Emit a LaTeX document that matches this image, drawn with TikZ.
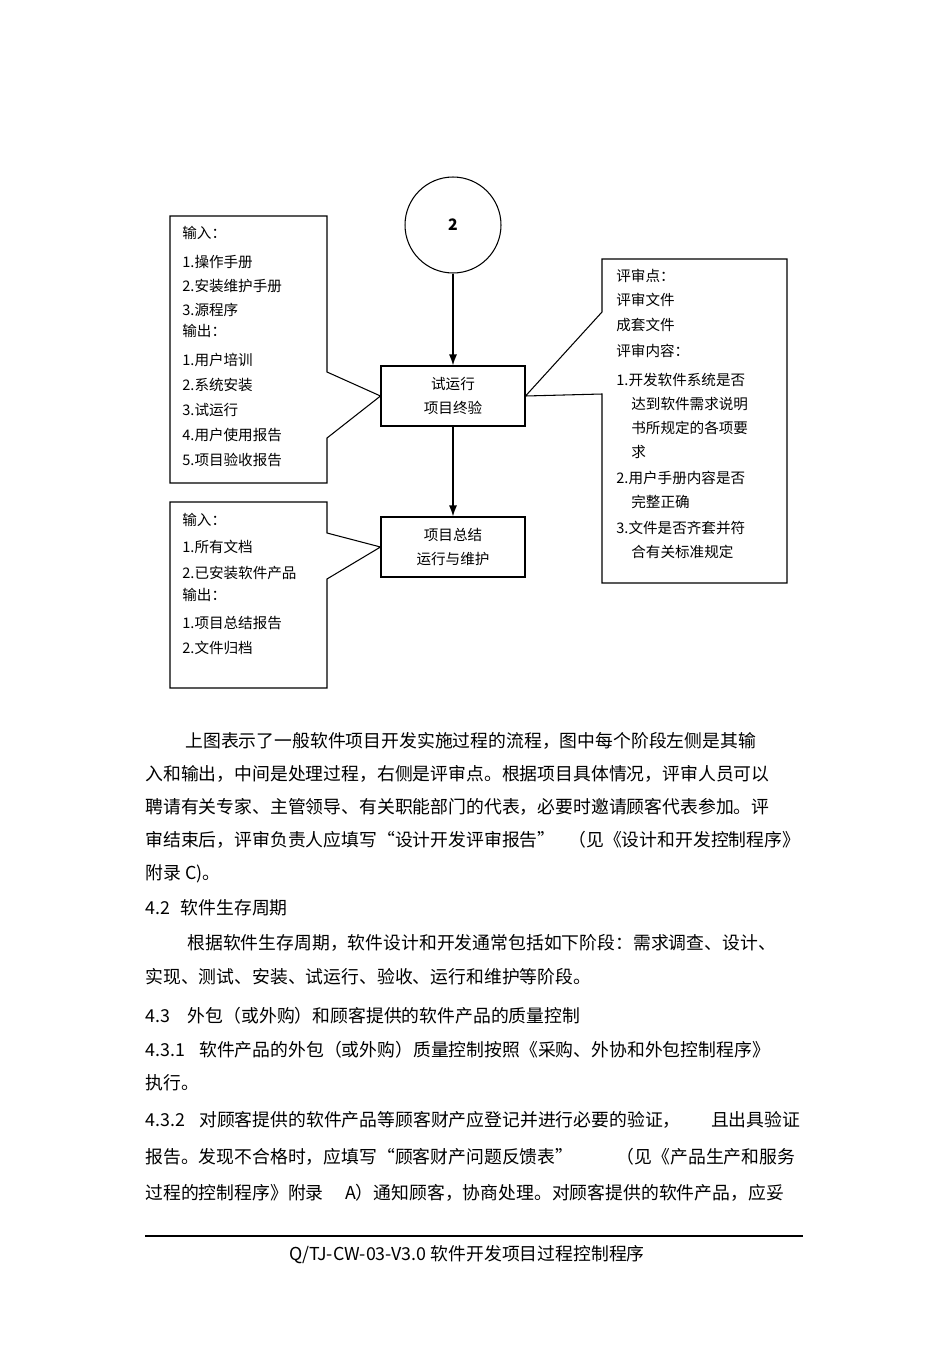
\documentclass[tikz,border=0pt]{standalone}
\usepackage{fontspec}
\setmainfont{Noto Sans CJK SC}
\usetikzlibrary{positioning, arrows.meta}

\begin{document}
\begin{tikzpicture}[
    x=0.02cm, y=-0.02cm,
    proc/.style={rectangle, draw, line width=0.6pt, minimum width=2.88cm, minimum height=1.2cm, align=center, font=\fontsize{8.3}{14}\selectfont},
    conn/.style={circle, draw, line width=0.6pt, minimum size=1.92cm, font=\bfseries\fontsize{9}{10}\selectfont},
    callout/.style={draw, line width=0.6pt},
    note/.style={anchor=west, inner sep=0pt, font=\fontsize{8.3}{10}\selectfont},
    body/.style={anchor=west, inner sep=0pt, font=\fontsize{10.15}{12}\selectfont},
    arr/.style={-{Latex[length=2.2mm, width=1.6mm]}, line width=0.8pt},
]
\useasboundingbox (0,0) rectangle (950,1345);

% Flow: connector circle and the two phases
\node[conn] (c2) at (453,225) {2};
\node[proc] (try) at (453,396) {试运行\\项目终验};
\node[proc] (sum) at (453,547) {项目总结\\运行与维护};

\draw[arr] (c2) -- (try);
\draw[arr] (try) -- (sum);

% Left callout - trial run inputs and outputs
\draw[callout] (327,372) -- (327,216) -- (170,216) -- (170,483) -- (327,483) -- (327,438) -- (try.west) -- cycle;
\foreach \y/\t [count=\i] in {233/输入：, 262/1.操作手册, 286/2.安装维护手册, 310/3.源程序, 331/输出：,
    360/1.用户培训, 385/2.系统安装, 410/3.试运行, 435/4.用户使用报告, 460/5.项目验收报告}
    \node[note] (ia\i) at (182,\y) {\t};

% Left callout - summary inputs and outputs
\draw[callout] (327,533) -- (327,502) -- (170,502) -- (170,688) -- (327,688) -- (327,579) -- (sum.west) -- cycle;
\foreach \y/\t [count=\i] in {520/输入：, 547/1.所有文档, 573/2.已安装软件产品, 595/输出：,
    623/1.项目总结报告, 648/2.文件归档}
    \node[note] (ib\i) at (182,\y) {\t};

% Right callout - review points
\draw[callout] (602,312) -- (602,259) -- (787,259) -- (787,583) -- (602,583) -- (602,394) -- (try.east) -- cycle;
\foreach \x/\y/\t [count=\i] in {616/276/评审点：, 616/300/评审文件, 616/325/成套文件, 616/351/评审内容：,
    616/380/1.开发软件系统是否, 631/404/达到软件需求说明, 631/428/书所规定的各项要, 631/452/求,
    616/478/2.用户手册内容是否, 631/502/完整正确, 616/528/3.文件是否齐套并符, 631/552/合有关标准规定}
    \node[note] (rv\i) at (\x,\y) {\t};

% Body text below the chart
\node[body] (b1) at (185,741) {上图表示了一般软件项目开发实施过程的流程，图中每个阶段左侧是其输};
\node[body] (b2) at (145,774) {入和输出，中间是处理过程，右侧是评审点。根据项目具体情况，评审人员可以};
\node[body] (b3) at (145,807) {聘请有关专家、主管领导、有关职能部门的代表，必要时邀请顾客代表参加。评};
\node[body] (b4) at (145,840) {\makebox[13.1cm][l]{审结束后，评审负责人应填写“设计开发评审报告”\hfill（见《设计和开发控制程序》}};
\node[body] (b5) at (145,874) {附录 C)。};
\node[body] (b6) at (145,908) {4.2\hspace{0.6em}软件生存周期};
\node[body] (b7) at (187,943) {根据软件生存周期，软件设计和开发通常包括如下阶段：需求调查、设计、};
\node[body] (b8) at (145,977) {实现、测试、安装、试运行、验收、运行和维护等阶段。};
\node[body] (b9) at (145,1016) {4.3\hspace{1em}外包（或外购）和顾客提供的软件产品的质量控制};
\node[body] (b10) at (145,1050) {4.3.1\hspace{0.8em}软件产品的外包（或外购）质量控制按照《采购、外协和外包控制程序》};
\node[body] (b11) at (145,1083) {执行。};
\node[body] (b12) at (145,1120) {\makebox[13.1cm][l]{4.3.2\hspace{0.8em}对顾客提供的软件产品等顾客财产应登记并进行必要的验证，\hfill 且出具验证}};
\node[body] (b13) at (145,1157) {\makebox[13.0cm][l]{报告。发现不合格时，应填写“顾客财产问题反馈表”\hfill（见《产品生产和服务}};
\node[body] (b14) at (145,1193) {过程的控制程序》附录\hspace{1.2em}A）通知顾客，协商处理。对顾客提供的软件产品，应妥};

% Footer
\coordinate (fl) at (145,1236);
\coordinate (fr) at (803,1236);
\draw[line width=0.6pt] (fl) -- (fr);
\node[font=\fontsize{10.15}{12}\selectfont, inner sep=0pt] (foot) at (467,1255) {Q/TJ-CW-03-V3.0 软件开发项目过程控制程序};

\end{tikzpicture}
\end{document}
